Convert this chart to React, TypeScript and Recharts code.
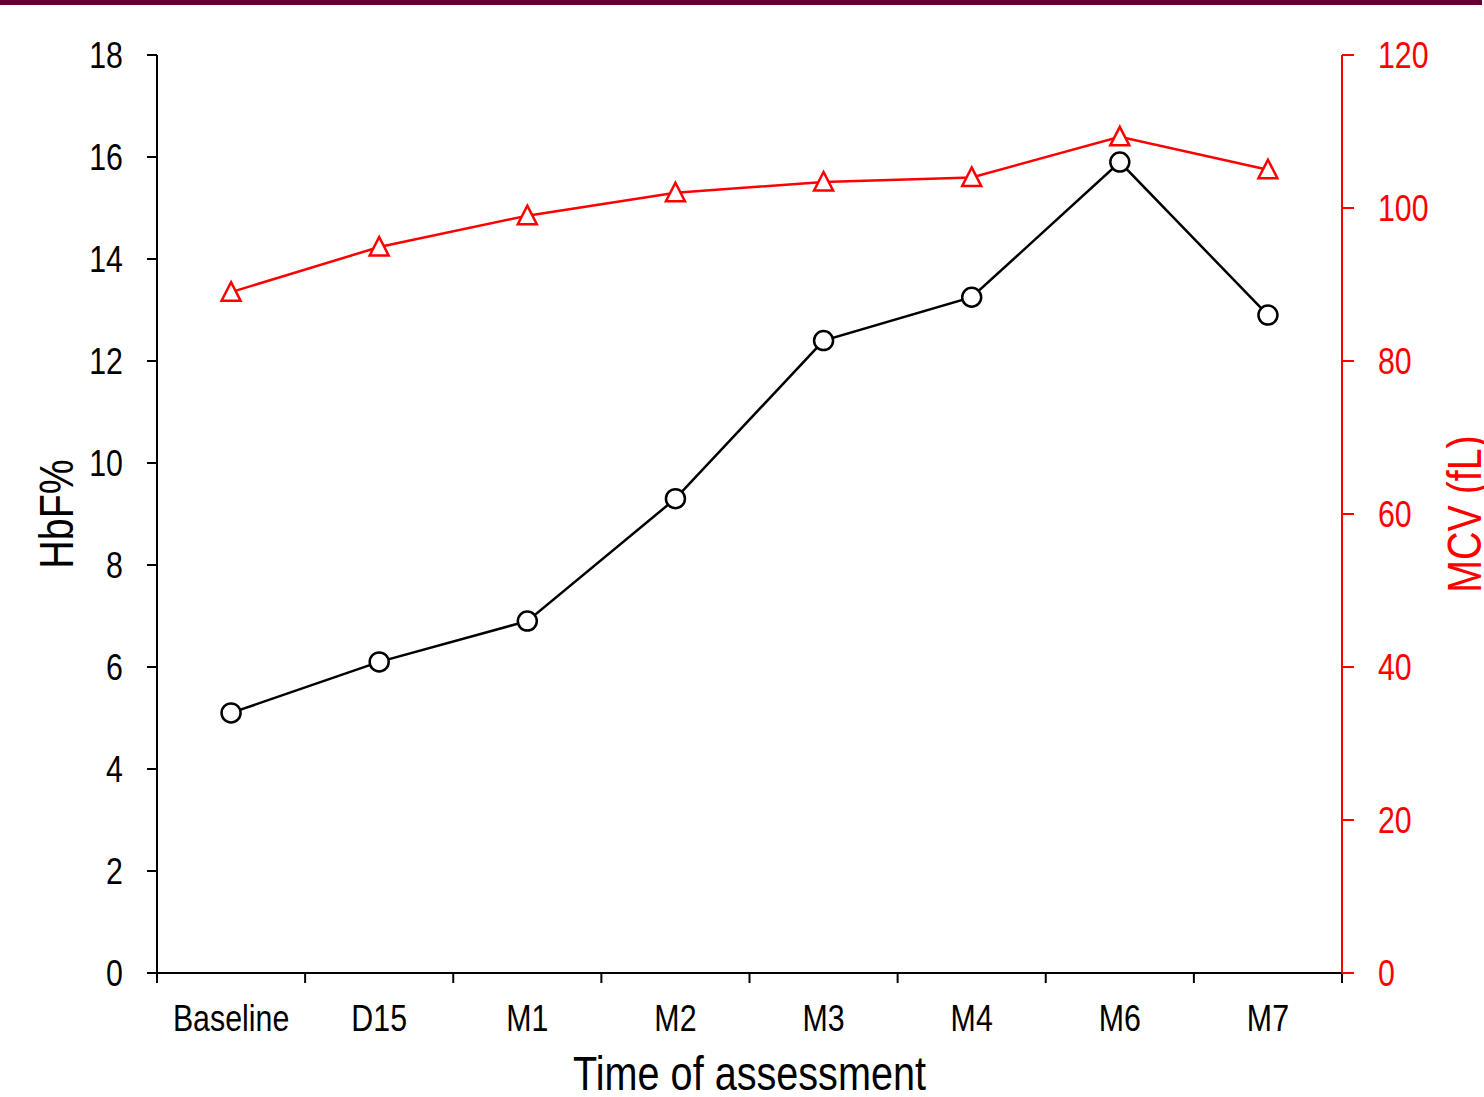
import React from 'react';
import { LineChart, Line, XAxis, YAxis, Label } from 'recharts';

const categories = ['Baseline', 'D15', 'M1', 'M2', 'M3', 'M4', 'M6', 'M7'];
const hbfValues = [5.1, 6.1, 6.9, 9.3, 12.4, 13.25, 15.9, 12.9];
const mcvValues = [89.0, 94.9, 99.0, 102.0, 103.4, 104.0, 109.3, 105.0];
const hbfTicks = [0, 2, 4, 6, 8, 10, 12, 14, 16, 18];
const mcvTicks = [0, 20, 40, 60, 80, 100, 120];
const boundaryTicks = [0, 1, 2, 3, 4, 5, 6, 7, 8];
const labelTicks = categories.map((_, i) => i + 0.5);

const data = categories.map((name, i) => ({
  pos: i + 0.5,
  name,
  hbf: hbfValues[i],
  mcv: mcvValues[i],
}));

const FONT = '"Liberation Sans", Arial, sans-serif';
const RED = '#ff0000';
const NARROW = 0.82;
const TICK_SIZE = 37;
const TITLE_SIZE = 48;

const Triangle = (props: any) => {
  const { cx, cy, index } = props;
  if (cx == null || cy == null) return null;
  return (
    <path
      key={`tri-${index}`}
      d={`M${cx},${cy - 10} L${cx + 9.5},${cy + 8.5} L${cx - 9.5},${cy + 8.5} Z`}
      fill="#fff"
      stroke={RED}
      strokeWidth={2.5}
    />
  );
};

const makeTick = (anchor: 'start' | 'middle' | 'end', dy: string, fill: string, fmt?: (v: any) => string) =>
  (props: any) => {
    const { x, y, payload } = props;
    const value = fmt ? fmt(payload.value) : String(payload.value);
    return (
      <text
        transform={`translate(${x}, ${y}) scale(${NARROW}, 1)`}
        textAnchor={anchor}
        dy={dy}
        fontSize={TICK_SIZE}
        fontFamily={FONT}
        fill={fill}
      >
        {value}
      </text>
    );
  };

const LeftTick = makeTick('end', '0.355em', '#000');
const RightTick = makeTick('start', '0.355em', RED);
const BottomTick = makeTick('middle', '0.71em', '#000', (v: number) => categories[Math.floor(v)]);

const LeftTitle = (props: any) => {
  const vb = props.viewBox || { x: 0, y: 0, width: 0, height: 0 };
  const x = vb.x + 56;
  const y = vb.y + vb.height / 2;
  return (
    <text
      transform={`translate(${x}, ${y}) rotate(-90) scale(${NARROW}, 1)`}
      textAnchor="middle"
      dominantBaseline="central"
      fontSize={TITLE_SIZE}
      fontFamily={FONT}
      fill="#000"
    >
      HbF%
    </text>
  );
};

const RightTitle = (props: any) => {
  const vb = props.viewBox || { x: 0, y: 0, width: 0, height: 0 };
  const x = vb.x + 122;
  const y = vb.y + vb.height / 2;
  return (
    <text
      transform={`translate(${x}, ${y}) rotate(-90) scale(${NARROW}, 1)`}
      textAnchor="middle"
      dominantBaseline="central"
      fontSize={TITLE_SIZE}
      fontFamily={FONT}
      fill={RED}
    >
      MCV (fL)
    </text>
  );
};

const BottomTitle = (props: any) => {
  const vb = props.viewBox || { x: 0, y: 0, width: 0, height: 0 };
  const x = vb.x + vb.width / 2;
  const y = vb.y + vb.height - 7;
  return (
    <text
      transform={`translate(${x}, ${y}) scale(0.825, 1)`}
      textAnchor="middle"
      fontSize={TITLE_SIZE}
      fontFamily={FONT}
      fill="#000"
    >
      Time of assessment
    </text>
  );
};

export default function App() {
  return (
    <div style={{ position: 'absolute', left: 0, top: 0, width: 1484, height: 1097, background: '#fff' }}>
      <div style={{ position: 'absolute', left: 0, top: 0, width: 1482, height: 5, background: '#660033' }} />
      <LineChart
        width={1484}
        height={1097}
        data={data}
        margin={{ top: 55, right: 0, bottom: 0, left: 0 }}
        style={{ fontFamily: FONT }}
      >
        <XAxis
          xAxisId="bounds"
          dataKey="pos"
          type="number"
          domain={[0, 8]}
          ticks={boundaryTicks}
          height={10}
          tickSize={10}
          tickFormatter={() => ''}
          axisLine={{ stroke: '#000', strokeWidth: 2 }}
          tickLine={{ stroke: '#000', strokeWidth: 2 }}
          allowDataOverflow
        />
        <XAxis
          xAxisId="labels"
          dataKey="pos"
          type="number"
          domain={[0, 8]}
          ticks={labelTicks}
          height={114}
          tickSize={0}
          tickMargin={22}
          axisLine={false}
          tickLine={false}
          interval={0}
          tick={<BottomTick />}
        >
          <Label content={<BottomTitle />} />
        </XAxis>
        <YAxis
          yAxisId="left"
          orientation="left"
          width={157}
          domain={[0, 18]}
          ticks={hbfTicks}
          tickSize={10}
          tickMargin={24}
          interval={0}
          axisLine={{ stroke: '#000', strokeWidth: 2 }}
          tickLine={{ stroke: '#000', strokeWidth: 2 }}
          tick={<LeftTick />}
        >
          <Label content={<LeftTitle />} />
        </YAxis>
        <YAxis
          yAxisId="right"
          orientation="right"
          width={142}
          domain={[0, 120]}
          ticks={mcvTicks}
          tickSize={12}
          tickMargin={24}
          interval={0}
          axisLine={{ stroke: RED, strokeWidth: 2 }}
          tickLine={{ stroke: RED, strokeWidth: 2 }}
          tick={<RightTick />}
        >
          <Label content={<RightTitle />} />
        </YAxis>
        <Line
          xAxisId="bounds"
          yAxisId="left"
          type="linear"
          dataKey="hbf"
          stroke="#000"
          strokeWidth={2.5}
          dot={{ r: 9.5, fill: '#fff', stroke: '#000', strokeWidth: 2.5 }}
          activeDot={false}
          isAnimationActive={false}
        />
        <Line
          xAxisId="bounds"
          yAxisId="right"
          type="linear"
          dataKey="mcv"
          stroke={RED}
          strokeWidth={2.5}
          dot={<Triangle />}
          activeDot={false}
          isAnimationActive={false}
        />
      </LineChart>
    </div>
  );
}
